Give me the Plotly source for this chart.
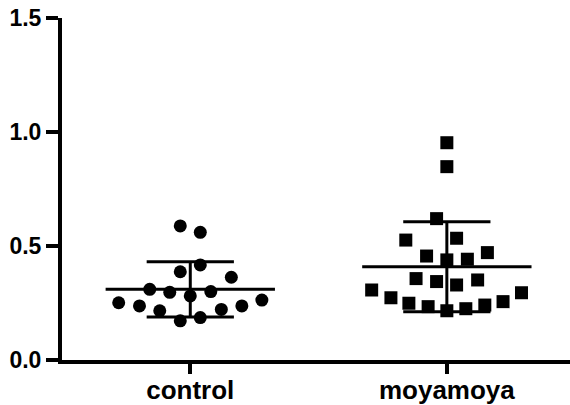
import plotly.graph_objects as go

categories = ["control", "moyamoya"]

control_values = [0.588, 0.560, 0.417, 0.387, 0.363, 0.310, 0.297, 0.300, 0.281,
                  0.251, 0.237, 0.263, 0.237, 0.216, 0.222, 0.172, 0.186]
control_jitter = [-0.039, 0.039, 0.039, -0.039, 0.16, -0.158, -0.08, 0.08, 0.0,
                  -0.279, -0.198, 0.279, 0.201, -0.119, 0.121, -0.039, 0.039]

moyamoya_values = [0.953, 0.848, 0.620, 0.526, 0.534, 0.456, 0.439, 0.442, 0.471,
                   0.357, 0.344, 0.329, 0.351, 0.307, 0.273, 0.249, 0.234, 0.216,
                   0.225, 0.241, 0.256, 0.295]
moyamoya_jitter = [0.0, 0.0, -0.04, -0.16, 0.038, -0.079, 0.0, 0.08, 0.158,
                   -0.12, -0.04, 0.038, 0.12, -0.293, -0.218, -0.148, -0.073, 0.0,
                   0.074, 0.148, 0.219, 0.291]

means = [0.310, 0.409]
sds = [0.121, 0.197]

y_tickvals = [0.0, 0.5, 1.0, 1.5]
y_ticktext = ["0.0", "0.5", "1.0", "1.5"]

MEAN_HALF = 0.33
CAP_HALF = 0.17

fig = go.Figure()

for i, (vals, jit, sym) in enumerate([(control_values, control_jitter, "circle"),
                                      (moyamoya_values, moyamoya_jitter, "square")]):
    fig.add_trace(go.Scatter(
        x=[i + j for j in jit], y=vals, mode="markers",
        marker=dict(symbol=sym, size=13, color="black", line=dict(width=0)),
        showlegend=False, hoverinfo="y"))
    m, s = means[i], sds[i]
    fig.add_trace(go.Scatter(x=[i - MEAN_HALF, i + MEAN_HALF], y=[m, m], mode="lines",
                             line=dict(color="black", width=3), showlegend=False,
                             hoverinfo="skip"))
    fig.add_trace(go.Scatter(x=[i, i], y=[m - s, m + s], mode="lines",
                             line=dict(color="black", width=3), showlegend=False,
                             hoverinfo="skip"))
    for v in (m - s, m + s):
        fig.add_trace(go.Scatter(x=[i - CAP_HALF, i + CAP_HALF], y=[v, v], mode="lines",
                                 line=dict(color="black", width=3), showlegend=False,
                                 hoverinfo="skip"))

fig.update_layout(
    width=570, height=405,
    margin=dict(l=62, r=0, t=18, b=45, autoexpand=False),
    plot_bgcolor="white", paper_bgcolor="white",
    font=dict(family="Arial, Liberation Sans, sans-serif", color="black"),
)
fig.update_xaxes(
    range=[-0.5, 1.48], tickvals=[0, 1], ticktext=categories,
    showgrid=False, zeroline=False, showline=True, linecolor="black", linewidth=4,
    ticks="outside", ticklen=10, tickwidth=4, tickcolor="black",
    tickfont=dict(size=26, color="black", weight="bold"),
    ticklabelstandoff=-6,
)
fig.update_yaxes(
    range=[0, 1.5], tickvals=y_tickvals, ticktext=y_ticktext,
    showgrid=False, zeroline=False, showline=True, linecolor="black", linewidth=4,
    ticks="outside", ticklen=12, tickwidth=4, tickcolor="black",
    tickfont=dict(size=23, color="black", weight="bold"),
)

# remove the browser's default 8px body margin so the figure sits at the page corner
fig.write_html("out.html", config={"displayModeBar": False},
               post_script="document.body.style.margin='0';")
